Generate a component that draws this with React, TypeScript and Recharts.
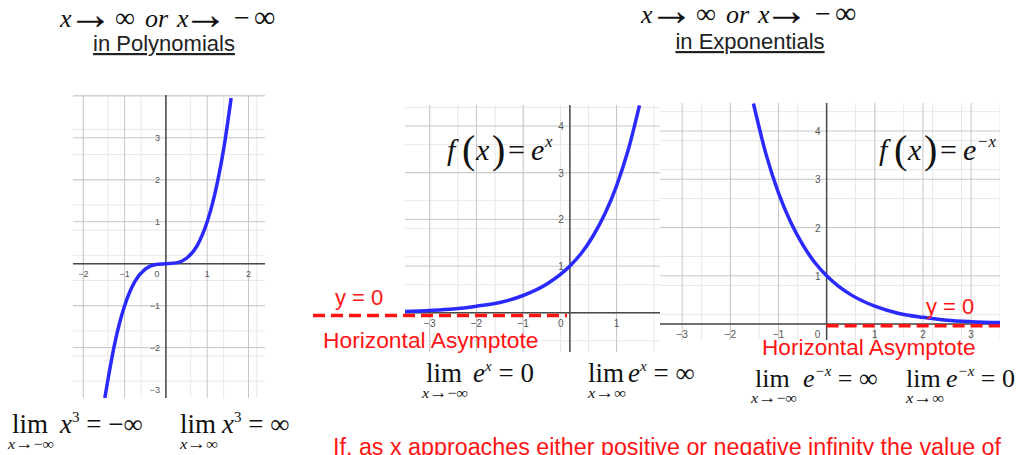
import React from 'react';
import { LineChart, Line, XAxis, YAxis, CartesianGrid, ReferenceLine, ReferenceDot } from 'recharts';

// y = x^3, sampled along the plotted curve
const polyX = [-1.48, -1.4, -1.25, -1.1, -1, -0.75, -0.5, -0.25, 0, 0.25, 0.5, 0.75, 1, 1.1, 1.25, 1.4, 1.58];
const polyY = [-3.2, -2.74, -1.95, -1.33, -1, -0.42, -0.13, -0.02, 0, 0.02, 0.13, 0.42, 1, 1.33, 1.95, 2.74, 3.95];

// f(x) = e^x
const expX = [-3.53, -3, -2.5, -2, -1.5, -1, -0.5, 0, 0.25, 0.5, 0.75, 1, 1.25, 1.49];
const expY = [0.03, 0.05, 0.08, 0.14, 0.22, 0.37, 0.61, 1, 1.28, 1.65, 2.12, 2.72, 3.49, 4.44];

// f(x) = e^-x
const decX = [-1.52, -1.25, -1, -0.75, -0.5, -0.25, 0, 0.25, 0.5, 1, 1.5, 2, 2.5, 3, 3.6];
const decY = [4.57, 3.49, 2.72, 2.12, 1.65, 1.28, 1, 0.78, 0.61, 0.37, 0.22, 0.14, 0.08, 0.05, 0.03];

// axis tick labels
const polyXTicks = [-2, -1, 0, 1, 2];
const polyYTicks = [-3, -2, -1, 1, 2, 3];
const expXTicks = [-3, -2, -1, 0, 1];
const expYTicks = [1, 2, 3, 4];
const decXTicks = [-3, -2, -1, 0, 1, 2, 3];
const decYTicks = [1, 2, 3, 4];

const BLUE = '#2a2aff';
const RED = '#ff1414';
const SERIF = '"Liberation Serif", "Times New Roman", serif';
const SANS = '"Liberation Sans", Arial, sans-serif';

// grid positions every `step` units inside a domain
const gridValues = (domain: number[], step: number) => {
  const out: number[] = [];
  const start = Math.ceil(domain[0] / step);
  const end = Math.floor(domain[1] / step);
  for (let i = start; i <= end; i++) out.push(Math.round(i * step * 1000) / 1000);
  return out;
};

const fmt = (v: number) => (v < 0 ? '\u2212' + Math.abs(v) : String(v));

interface PanelProps {
  left: number;
  top: number;
  width: number;
  height: number;
  padLeft?: number;
  xDomain: number[];
  yDomain: number[];
  xs: number[];
  ys: number[];
  xTicks: number[];
  yTicks: number[];
  tickSize: number;
  asymptote?: number[]; // [xFrom, xTo, y]
}

const Panel: React.FC<PanelProps> = ({ left, top, width, height, padLeft = 0, xDomain, yDomain, xs, ys, xTicks, yTicks, tickSize, asymptote }) => {
  const data = xs.map((x, i) => ({ x, y: ys[i] }));
  const tickText = { fill: '#555', fontSize: tickSize, fontFamily: SANS };

  return (
    <div style={{ position: 'absolute', left: left - padLeft, top }}>
      <LineChart width={width + padLeft} height={height} data={data} margin={{ top: 0, right: 0, bottom: 0, left: padLeft }}>
        <XAxis type="number" dataKey="x" domain={xDomain} hide allowDataOverflow />
        <YAxis type="number" domain={yDomain} hide allowDataOverflow />
        <CartesianGrid verticalValues={gridValues(xDomain, 0.2)} horizontalValues={gridValues(yDomain, 0.2)} stroke="#e8e8e8" />
        <CartesianGrid verticalValues={gridValues(xDomain, 1)} horizontalValues={gridValues(yDomain, 1)} stroke="#c6c6c6" />
        <ReferenceLine x={0} stroke="#4a4a4a" strokeWidth={1.5} />
        <ReferenceLine y={0} stroke="#4a4a4a" strokeWidth={1.5} />
        {xTicks.map((t) => (
          <ReferenceDot
            key={'x' + t}
            x={t}
            y={0}
            r={0}
            shape={(p: any) => (
              <text x={p.cx + (t === 0 ? -9 : 0)} y={p.cy + tickSize + 4} textAnchor="middle" {...tickText}>
                {fmt(t)}
              </text>
            )}
          />
        ))}
        {yTicks.map((t) => (
          <ReferenceDot
            key={'y' + t}
            x={0}
            y={t}
            r={0}
            shape={(p: any) => (
              <text x={p.cx - 6} y={p.cy + tickSize / 2 - 1} textAnchor="end" {...tickText}>
                {fmt(t)}
              </text>
            )}
          />
        ))}
        {asymptote && (
          <ReferenceLine
            segment={[{ x: asymptote[0], y: asymptote[2] }, { x: asymptote[1], y: asymptote[2] }]}
            ifOverflow="visible"
            stroke={RED}
            strokeWidth={3.5}
            strokeDasharray="12 6"
          />
        )}
        <Line type="monotone" dataKey="y" stroke={BLUE} strokeWidth={3.5} dot={false} isAnimationActive={false} />
      </LineChart>
    </div>
  );
};

// limit expression: "lim" with the approach written underneath
const Lim: React.FC<{ x: number; y: number; sub: string; restX: number; size?: number; children: React.ReactNode }> = ({ x, y, sub, restX, size = 27, children }) => (
  <g fontFamily={SERIF} fill="#111">
    <text x={x} y={y} fontSize={size}>lim</text>
    <text
      x={x + 19 - (sub.length > 2 ? 23 : 19)}
      y={y + 16}
      fontSize={15}
      textLength={sub.length > 2 ? 46 : 38}
      lengthAdjust="spacingAndGlyphs"
    >
      <tspan fontStyle="italic">x</tspan>
      <tspan fontSize={17}>{sub[0]}</tspan>
      {sub.slice(1)}
    </text>
    <text x={restX} y={y} fontSize={size}>{children}</text>
  </g>
);

// "x → ∞ or x → −∞" heading, each piece set at its own offset
const Approach: React.FC<{ x: number; y: number }> = ({ x, y }) => (
  <g fontFamily={SERIF} fill="#111">
    <text x={x} y={y} fontSize={26} fontStyle="italic">x</text>
    <text x={x + 8} y={y + 2} fontSize={45}>{'\u2192'}</text>
    <text x={x + 55} y={y} fontSize={28}>{'\u221e'}</text>
    <text x={x + 85} y={y} fontSize={26} fontStyle="italic">or</text>
    <text x={x + 117} y={y} fontSize={26} fontStyle="italic">x</text>
    <text x={x + 123} y={y + 2} fontSize={45}>{'\u2192'}</text>
    <text x={x + 174} y={y} fontSize={28}>{'\u2212'}</text>
    <text x={x + 194} y={y} fontSize={30}>{'\u221e'}</text>
  </g>
);

// f(x) = e^... title set inside a panel
const FuncLabel: React.FC<{ x: number; y: number; exp: string }> = ({ x, y, exp }) => (
  <text y={y} fontFamily={SERIF} fontSize={30} fill="#111">
    <tspan x={x} fontStyle="italic">f</tspan>
    <tspan x={x + 15} fontSize={40} dy={3}>(</tspan>
    <tspan x={x + 29} fontStyle="italic" dy={-3}>x</tspan>
    <tspan x={x + 45} fontSize={40} dy={3}>)</tspan>
    <tspan x={x + 61} dy={-3}>=</tspan>
    <tspan x={x + 84} fontStyle="italic">e</tspan>
    <tspan x={x + 98} fontSize={17} fontStyle="italic" dy={-13}>{exp}</tspan>
  </text>
);

export default function App() {
  return (
    <div style={{ position: 'absolute', left: 0, top: 0, width: 1016, height: 455, overflow: 'hidden', background: '#fff' }}>
      <Panel left={73} top={95} width={192} height={303} xDomain={[-2.25, 2.4]} yDomain={[-3.2, 4.02]} xs={polyX} ys={polyY} xTicks={polyXTicks} yTicks={polyYTicks} tickSize={9} />
      <Panel left={405} top={105} width={255} height={247} padLeft={92} xDomain={[-3.53, 1.93]} yDomain={[-0.84, 4.45]} xs={expX} ys={expY} xTicks={expXTicks} yTicks={expYTicks} tickSize={10} asymptote={[-5.5, -0.06, -0.06]} />
      <Panel left={660} top={103} width={340} height={237} xDomain={[-3.46, 3.6]} yDomain={[-0.33, 4.58]} xs={decX} ys={decY} xTicks={decXTicks} yTicks={decYTicks} tickSize={10} asymptote={[0, 3.6, -0.035]} />

      <svg width={1016} height={455} style={{ position: 'absolute', left: 0, top: 0, pointerEvents: 'none' }}>
        <Approach x={60} y={27} />
        <text x={164} y={51} textAnchor="middle" fontFamily={SANS} fontSize={22} fill="#222" textDecoration="underline">in Polynomials</text>
        <Approach x={641} y={23} />
        <text x={750} y={49} textAnchor="middle" fontFamily={SANS} fontSize={22} fill="#222" textDecoration="underline">in Exponentials</text>

        <FuncLabel x={447} y={160} exp="x" />
        <FuncLabel x={879} y={160} exp={'\u2212x'} />

        <g fontFamily={SANS} fontSize={22} fill={RED}>
          <text x={335} y={305}>y = 0</text>
          <text x={323} y={348} fontSize={22.8}>Horizontal Asymptote</text>
          <text x={926} y={314}>y = 0</text>
          <text x={762} y={355} fontSize={22.6}>Horizontal Asymptote</text>
        </g>

        <Lim x={12} y={433} sub={'\u2192\u2212\u221e'} restX={60}>
          <tspan fontStyle="italic">x</tspan>
          <tspan fontSize={15} dy={-11}>3</tspan>
          <tspan dy={11}> = {'\u2212\u221e'}</tspan>
        </Lim>
        <Lim x={180} y={433} sub={'\u2192\u221e'} restX={222}>
          <tspan fontStyle="italic">x</tspan>
          <tspan fontSize={15} dy={-11}>3</tspan>
          <tspan dy={11}> = {'\u221e'}</tspan>
        </Lim>
        <Lim x={426} y={382} sub={'\u2192\u2212\u221e'} restX={473}>
          <tspan fontStyle="italic">e</tspan>
          <tspan fontSize={15} fontStyle="italic" dy={-11}>x</tspan>
          <tspan dy={11}> = 0</tspan>
        </Lim>
        <Lim x={588} y={382} sub={'\u2192\u221e'} restX={628}>
          <tspan fontStyle="italic">e</tspan>
          <tspan fontSize={15} fontStyle="italic" dy={-11}>x</tspan>
          <tspan dy={11}> = {'\u221e'}</tspan>
        </Lim>
        <Lim x={755} y={387} size={26} sub={'\u2192\u2212\u221e'} restX={803}>
          <tspan fontStyle="italic">e</tspan>
          <tspan fontSize={15} fontStyle="italic" dy={-11}>{'\u2212x'}</tspan>
          <tspan dy={11}> = {'\u221e'}</tspan>
        </Lim>
        <Lim x={906} y={387} size={26} sub={'\u2192\u221e'} restX={946}>
          <tspan fontStyle="italic">e</tspan>
          <tspan fontSize={15} fontStyle="italic" dy={-11}>{'\u2212x'}</tspan>
          <tspan dy={11}> = 0</tspan>
        </Lim>

        <text x={333} y={455} fontFamily={SANS} fontSize={23} fill={RED} textLength={668} lengthAdjust="spacingAndGlyphs">
          If, as x approaches either positive or negative infinity the value of
        </text>
      </svg>
    </div>
  );
}
